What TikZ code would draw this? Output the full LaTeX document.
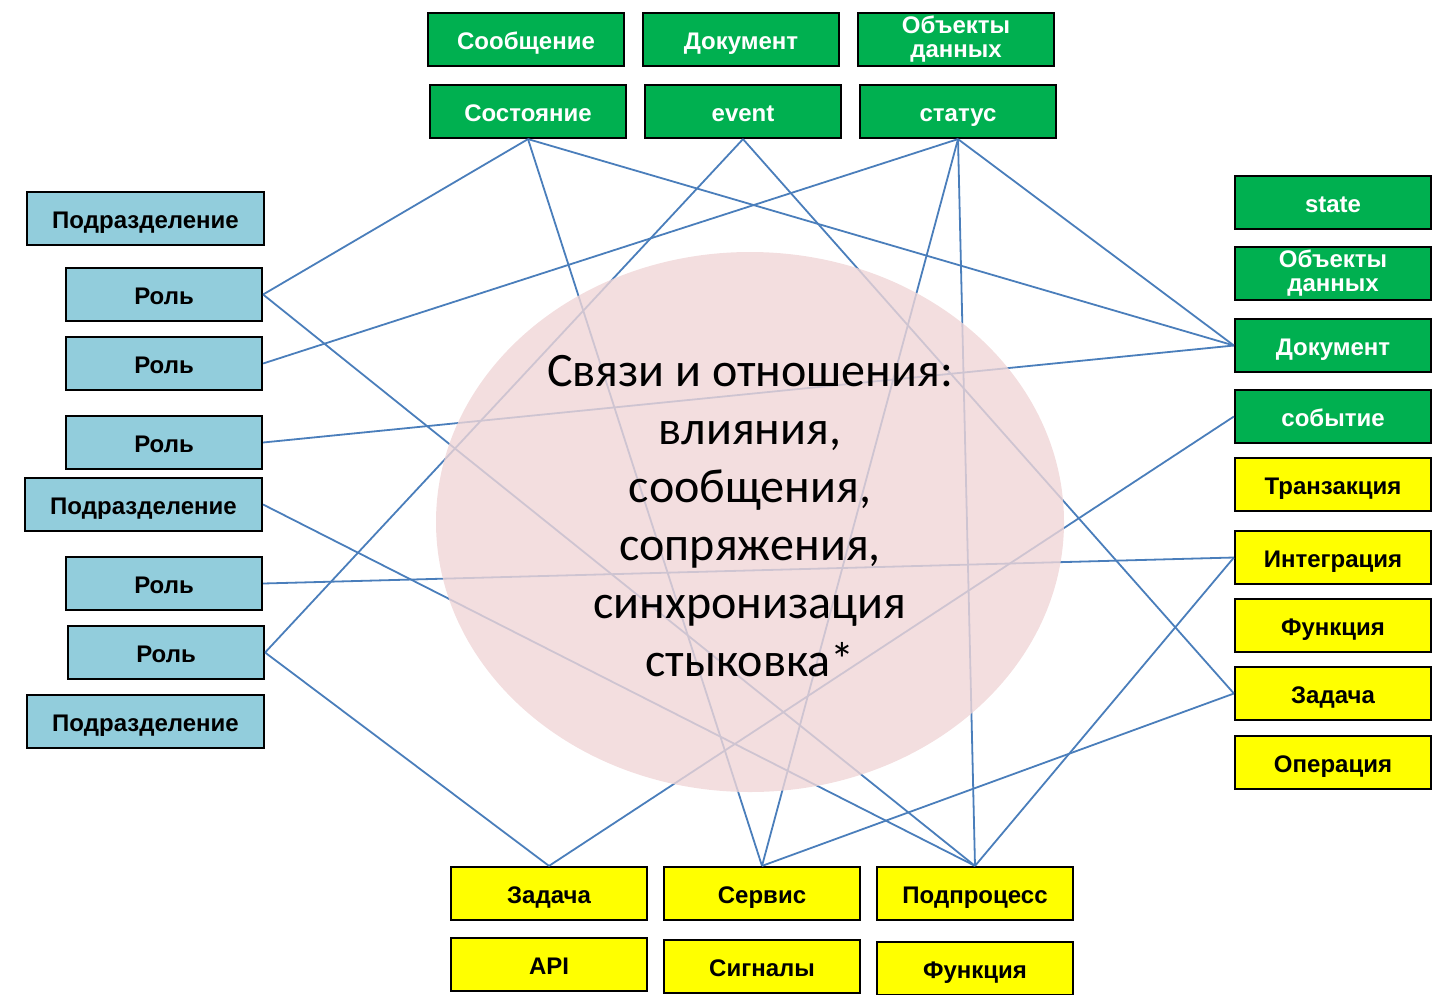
\documentclass[tikz,border=0pt]{standalone}
\usepackage{fontspec}
\setmainfont{Liberation Sans}
\newfontfamily\calibri{Carlito}
\definecolor{boxgreen}{RGB}{0,176,80}
\definecolor{boxblue}{RGB}{146,205,220}
\definecolor{boxyellow}{RGB}{255,255,0}
\definecolor{linkblue}{RGB}{74,126,187}
\definecolor{ovalpink}{RGB}{240,214,215}

\begin{document}
\begin{tikzpicture}[x=1pt,y=-1pt,node distance=215pt,
  box/.style={rectangle,draw=black,line width=2.2pt,minimum width=196pt,minimum height=53pt,
    inner sep=0pt,align=center,text height=21pt,text depth=1pt,
    font=\fontsize{24}{24}\selectfont\bfseries},
  two lines/.style={text height={},text depth={}},
  wide/.style={minimum width=237pt},
  green node/.style={box,fill=boxgreen,text=white},
  blue node/.style={box,fill=boxblue},
  yellow node/.style={box,fill=boxyellow},
  link/.style={draw=linkblue,line width=1.8pt}]

 \useasboundingbox (0,0) rectangle (1446,994);

 % top
 \node[green node] (soob) at (526,39.5) {Сообщение};
 \node[green node] (dok) [right of=soob] {Документ};
 \node[green node,two lines] (obj) [right of=dok] {Объекты\\данных};
 \node[green node] (sost) at (528,111.5) {Состояние};
 \node[green node] (event) [right of=sost] {event};
 \node[green node] (stat) [right of=event] {статус};

 % left
 \node[blue node,wide] (podr1) at (145.5,218.5) {Подразделение};
 \node[blue node] (rol1) at (164,294.5) {Роль};
 \node[blue node] (rol2) at (164,363.5) {Роль};
 \node[blue node] (rol3) at (164,442.5) {Роль};
 \node[blue node,wide] (podr2) at (143.5,504.5) {Подразделение};
 \node[blue node] (rol4) at (164,583.5) {Роль};
 \node[blue node] (rol5) at (166,652.5) {Роль};
 \node[blue node,wide] (podr3) at (145.5,721.5) {Подразделение};

 % right
 \node[green node] (state) at (1333,202.5) {state};
 \node[green node,two lines] (obj2) at (1333,273.5) {Объекты\\данных};
 \node[green node] (dok2) at (1333,345.5) {Документ};
 \node[green node] (sob) at (1333,416.5) {событие};
 \node[yellow node] (tranz) at (1333,484.5) {Транзакция};
 \node[yellow node] (integ) at (1333,557.5) {Интеграция};
 \node[yellow node] (funk) at (1333,625.5) {Функция};
 \node[yellow node] (zad) at (1333,693.5) {Задача};
 \node[yellow node] (oper) at (1333,762.5) {Операция};

 % bottom
 \node[yellow node] (zad2) at (549,893.5) {Задача};
 \node[yellow node] (serv) [right of=zad2,node distance=213pt] {Сервис};
 \node[yellow node] (podpr) [right of=serv,node distance=213pt] {Подпроцесс};
 \node[yellow node] (api) [below of=zad2,node distance=71pt] {API};
 \node[yellow node] (sign) [below of=serv,node distance=73pt] {Сигналы};
 \node[yellow node] (funk2) [below of=podpr,node distance=75pt] {Функция};

 \path[link]
    (sost.south)  edge (rol1.east)
    (sost.south)  edge (serv.north)
    (sost.south)  edge (dok2.west)
    (event.south) edge (rol5.east)
    (event.south) edge (zad.west)
    (stat.south)  edge (rol2.east)
    (stat.south)  edge (serv.north)
    (stat.south)  edge (podpr.north)
    (stat.south)  edge (dok2.west)
    (rol1.east)   edge (podpr.north)
    (rol3.east)   edge (dok2.west)
    (podr2.east)  edge (podpr.north)
    (rol4.east)   edge (integ.west)
    (rol5.east)   edge (zad2.north)
    (sob.west)    edge (zad2.north)
    (integ.west)  edge (podpr.north)
    (zad.west)    edge (serv.north);

 \fill[ovalpink,opacity=0.8] (750,522) ellipse [x radius=314pt,y radius=270pt];
 \node[font=\calibri\fontsize{48}{58}\selectfont,align=center] (title) at (750,516)
   {Связи и отношения:\\влияния,\\сообщения,\\сопряжения,\\синхронизация\\стыковка*};

\end{tikzpicture}
\end{document}
